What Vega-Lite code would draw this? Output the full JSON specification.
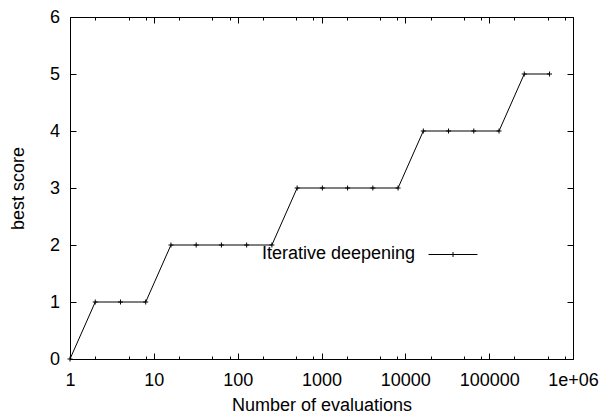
{
  "$schema": "https://vega.github.io/schema/vega-lite/v6.json",
  "width": 503,
  "height": 342,
  "autosize": "none",
  "padding": {"left": 70, "top": 17, "right": 29, "bottom": 55},
  "background": "white",
  "config": {
    "view": {"stroke": "black", "strokeWidth": 1},
    "font": "Liberation Sans",
    "axis": {
      "domain": false,
      "grid": false,
      "tickColor": "black",
      "tickWidth": 1,
      "labelColor": "black",
      "labelFont": "Liberation Sans",
      "labelFontSize": 18,
      "titleFont": "Liberation Sans",
      "titleFontSize": 18,
      "titleFontWeight": "normal",
      "titleColor": "black"
    }
  },
  "data": {
    "values": [
      {"evaluations": 1, "score": 0, "series": "Iterative deepening"},
      {"evaluations": 2, "score": 1, "series": "Iterative deepening"},
      {"evaluations": 4, "score": 1, "series": "Iterative deepening"},
      {"evaluations": 8, "score": 1, "series": "Iterative deepening"},
      {"evaluations": 16, "score": 2, "series": "Iterative deepening"},
      {"evaluations": 32, "score": 2, "series": "Iterative deepening"},
      {"evaluations": 64, "score": 2, "series": "Iterative deepening"},
      {"evaluations": 128, "score": 2, "series": "Iterative deepening"},
      {"evaluations": 256, "score": 2, "series": "Iterative deepening"},
      {"evaluations": 512, "score": 3, "series": "Iterative deepening"},
      {"evaluations": 1024, "score": 3, "series": "Iterative deepening"},
      {"evaluations": 2048, "score": 3, "series": "Iterative deepening"},
      {"evaluations": 4096, "score": 3, "series": "Iterative deepening"},
      {"evaluations": 8192, "score": 3, "series": "Iterative deepening"},
      {"evaluations": 16384, "score": 4, "series": "Iterative deepening"},
      {"evaluations": 32768, "score": 4, "series": "Iterative deepening"},
      {"evaluations": 65536, "score": 4, "series": "Iterative deepening"},
      {"evaluations": 131072, "score": 4, "series": "Iterative deepening"},
      {"evaluations": 262144, "score": 5, "series": "Iterative deepening"},
      {"evaluations": 524288, "score": 5, "series": "Iterative deepening"}
    ]
  },
  "resolve": {"axis": {"x": "independent", "y": "independent"}},
  "layer": [
    {
      "mark": {"type": "line", "strokeWidth": 1},
      "encoding": {
        "x": {
          "field": "evaluations", "type": "quantitative",
          "scale": {"type": "log", "domain": [1, 1000000], "nice": false},
          "axis": {
            "orient": "bottom",
            "values": [1, 10, 100, 1000, 10000, 100000, 1000000],
            "labelExpr": "datum.value >= 1000000 ? '1e+06' : format(datum.value, 'd')",
            "labelFlush": false,
            "labelOverlap": false,
            "tickSize": -6,
            "labelPadding": 18,
            "title": "Number of evaluations",
            "titleBaseline": "bottom",
            "titleY": 55
          }
        },
        "y": {
          "field": "score", "type": "quantitative",
          "scale": {"domain": [0, 6], "nice": false, "zero": false},
          "axis": {
            "orient": "left",
            "values": [0, 1, 2, 3, 4, 5, 6],
            "labelFlush": false,
            "labelOverlap": false,
            "tickSize": -6,
            "labelPadding": 16.5,
            "title": "best score",
            "titleBaseline": "alphabetic",
            "titleX": -46.5
          }
        },
        "color": {
          "field": "series", "type": "nominal",
          "scale": {"range": ["black"]},
          "legend": {
            "orient": "none",
            "legendX": 192,
            "legendY": 212.5,
            "padding": 0,
            "title": "Iterative deepening",
            "titleOrient": "left",
            "titleAnchor": "middle",
            "titleBaseline": "top",
            "titleFont": "Liberation Sans",
            "titleFontSize": 18,
            "titleFontWeight": "normal",
            "titleColor": "black",
            "titlePadding": 12,
            "labelExpr": "''",
            "labelOffset": 0,
            "symbolType": "M-1,0H1M0,-0.1V0.1",
            "symbolSize": 2401,
            "symbolStrokeWidth": 1,
            "symbolStrokeColor": "black",
            "symbolFillColor": "transparent"
          }
        }
      }
    },
    {
      "mark": {"type": "point", "shape": "M-1,0H1M0,-1V1", "size": 25, "filled": false, "color": "black", "strokeWidth": 1, "opacity": 1},
      "encoding": {
        "x": {
          "field": "evaluations", "type": "quantitative",
          "axis": {
            "orient": "top",
            "values": [1, 10, 100, 1000, 10000, 100000, 1000000],
            "labels": false,
            "tickSize": -6,
            "title": null
          }
        },
        "y": {
          "field": "score", "type": "quantitative",
          "axis": {
            "orient": "right",
            "values": [0, 1, 2, 3, 4, 5, 6],
            "labels": false,
            "tickSize": -6,
            "title": null
          }
        }
      }
    },
    {
      "mark": {"type": "line", "opacity": 0},
      "encoding": {
        "x": {
          "field": "evaluations", "type": "quantitative",
          "axis": {
            "orient": "bottom",
            "values": [2, 5, 8, 20, 50, 80, 200, 500, 800, 2000, 5000, 8000, 20000, 50000, 80000, 200000, 500000, 800000],
            "labels": false,
            "tickSize": -3,
            "title": null
          }
        },
        "y": {"field": "score", "type": "quantitative", "axis": null}
      }
    },
    {
      "mark": {"type": "line", "opacity": 0},
      "encoding": {
        "x": {
          "field": "evaluations", "type": "quantitative",
          "axis": {
            "orient": "top",
            "values": [2, 5, 8, 20, 50, 80, 200, 500, 800, 2000, 5000, 8000, 20000, 50000, 80000, 200000, 500000, 800000],
            "labels": false,
            "tickSize": -3,
            "title": null
          }
        },
        "y": {"field": "score", "type": "quantitative", "axis": null}
      }
    }
  ]
}
